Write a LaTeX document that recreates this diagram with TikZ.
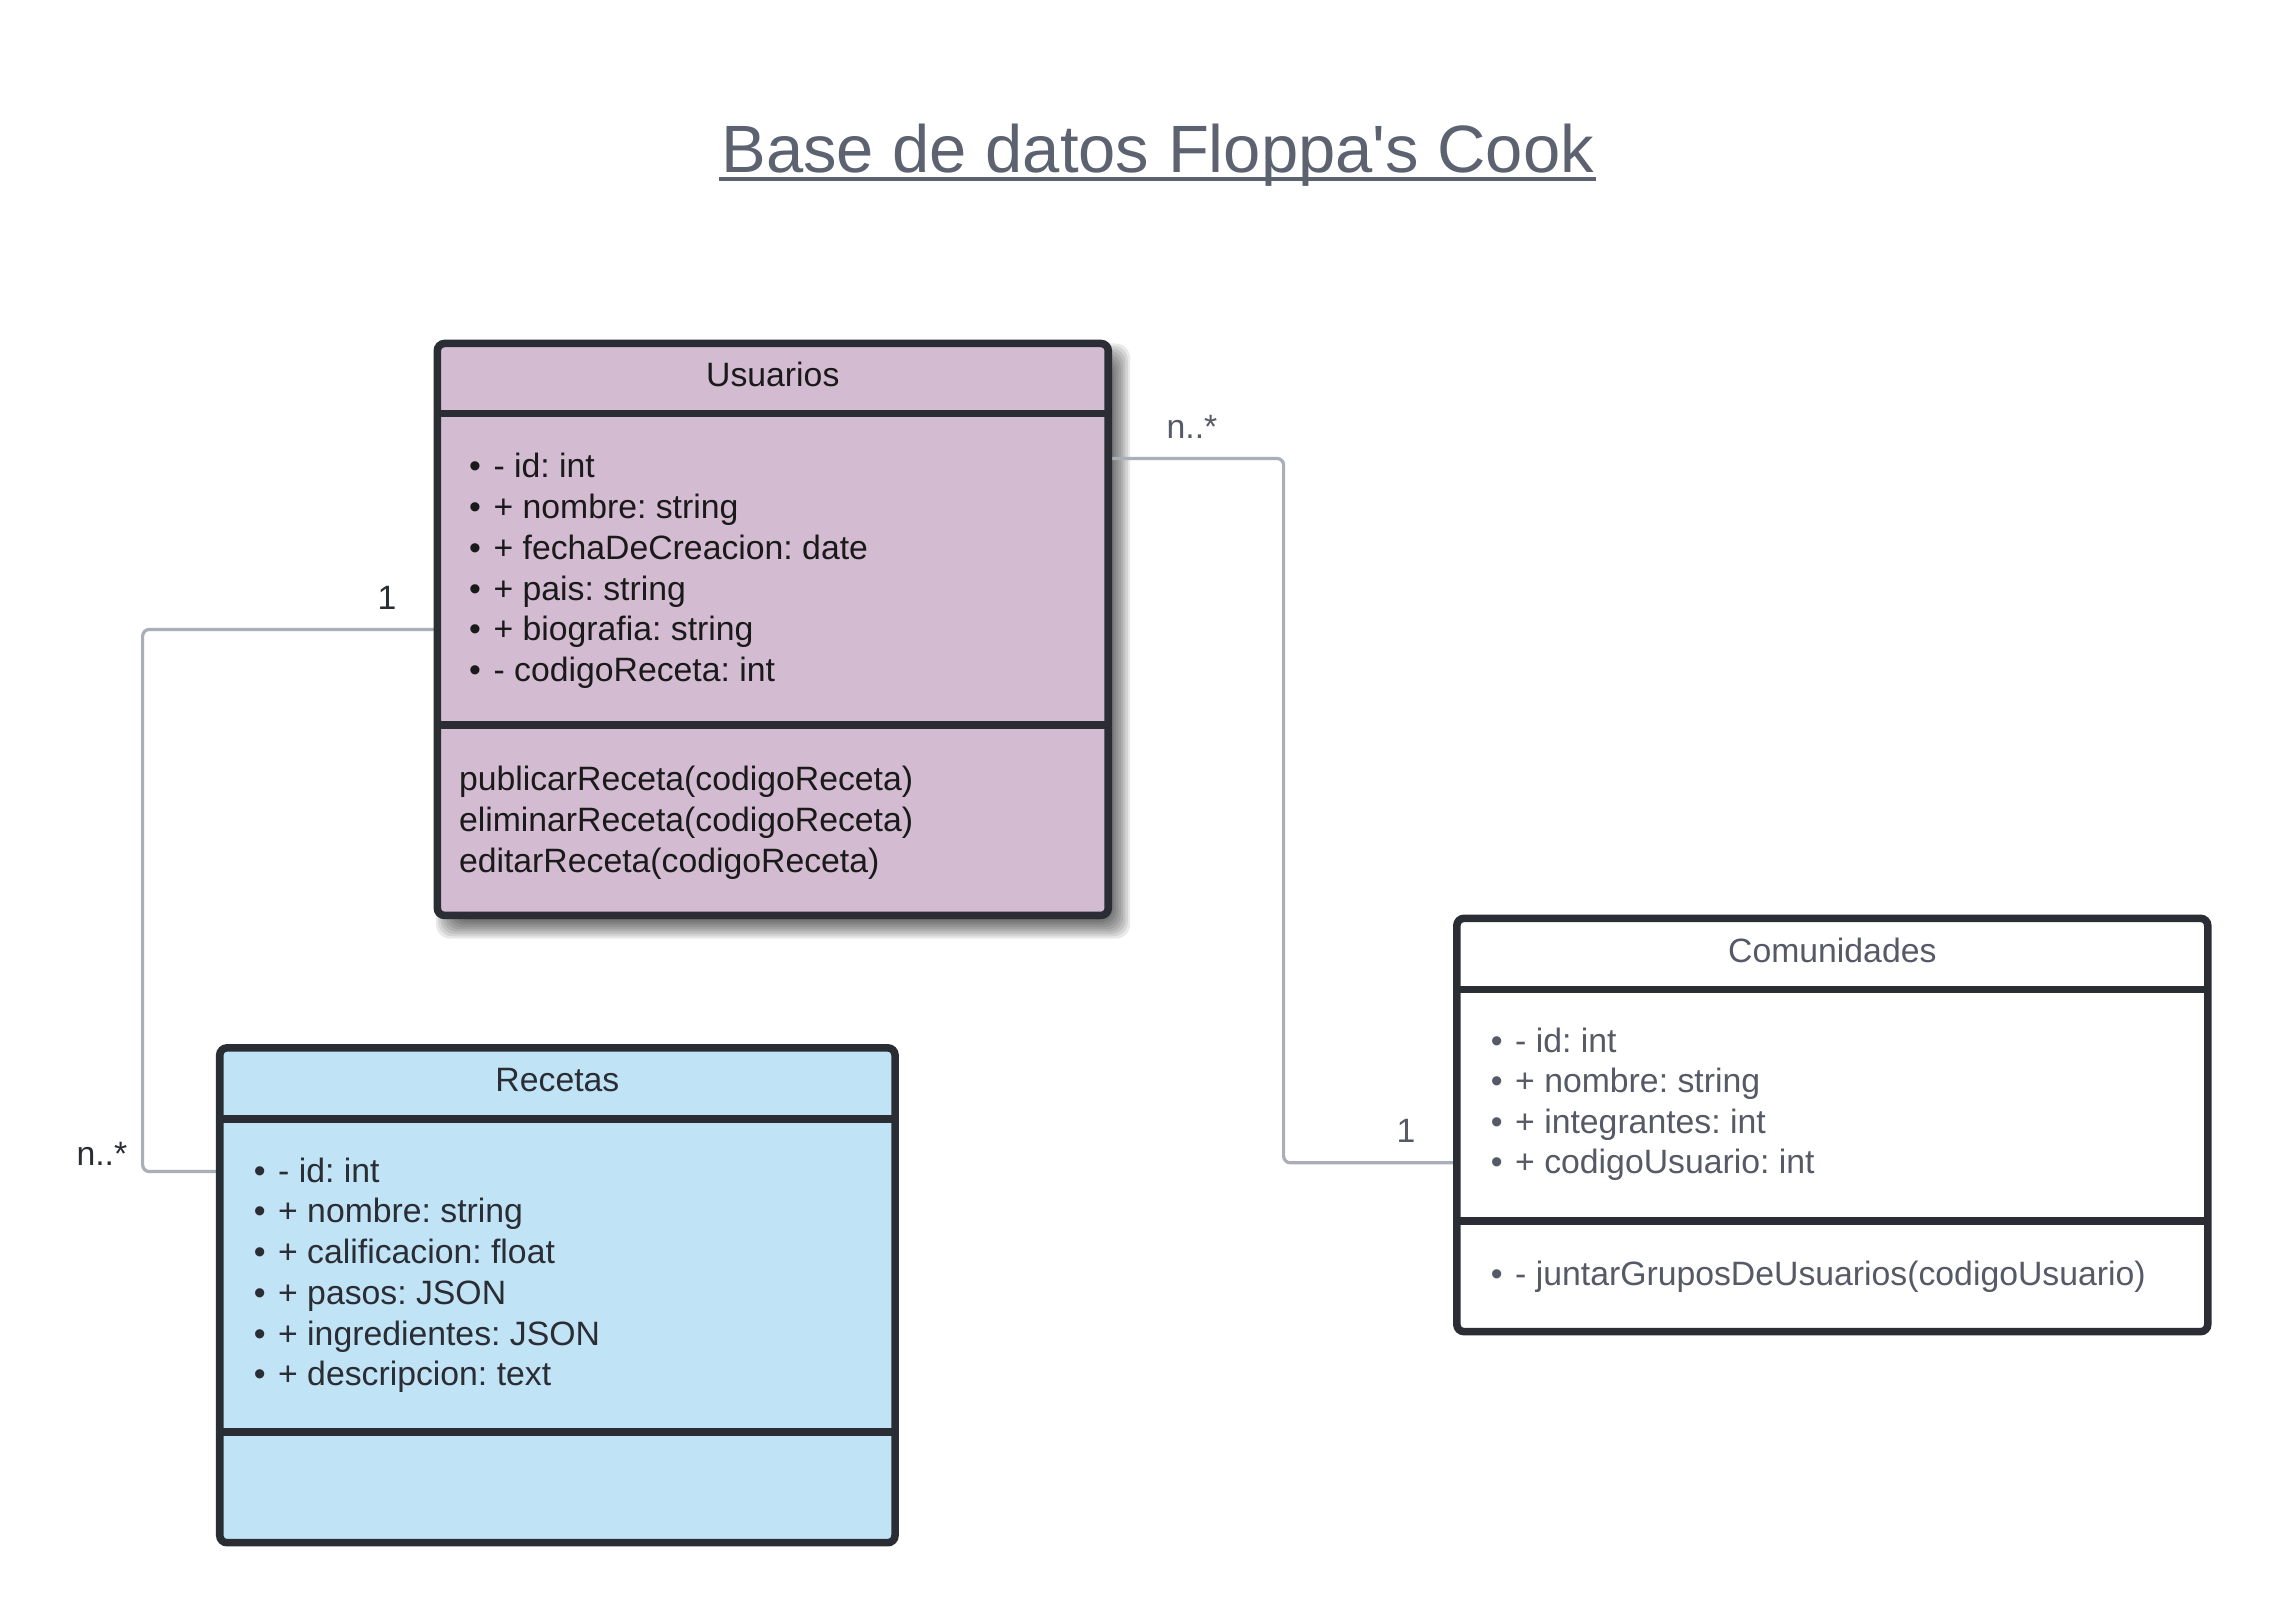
\documentclass[tikz,border=0pt]{standalone}
\usepackage{fontspec}
\setmainfont{Liberation Sans}[Ligatures=TeXOff]
\usetikzlibrary{calc}
\pgfdeclarelayer{background}
\pgfsetlayers{background,main}
\definecolor{usufill}{HTML}{D3BCD1}
\definecolor{recfill}{HTML}{C0E3F5}
\definecolor{edgecol}{HTML}{2A2D33}
\definecolor{conncol}{HTML}{A9AEB8}
\definecolor{titlecol}{HTML}{5C6270}
\definecolor{greytext}{HTML}{555A66}
\definecolor{darktext}{HTML}{2B2D35}
\definecolor{blacktext}{HTML}{1A1A1A}
\frenchspacing
\newcommand{\bul}{•\hspace{4.3pt}}
\begin{document}
\begin{tikzpicture}[x=0.5pt,y=-0.5pt,
  classbox/.style={draw=edgecol, line width=2.6pt, rounded corners=2.5pt, inner sep=0pt, outer sep=0pt},
  divider/.style={draw=edgecol, line width=2.6pt},
  conn/.style={draw=conncol, line width=1.1pt, rounded corners=2.3pt},
  txt/.style={font=\fontsize{11.6}{14}\selectfont, inner sep=0pt},
  body/.style={txt, anchor=mid west}]
\useasboundingbox (0,0) rectangle (1568,1111.7);

% title
\node[font=\fontsize{23}{28}\selectfont, text=titlecol, inner sep=0pt, anchor=base] (title) at (795.5,118.5) {Base de datos Floppa's Cook};
\draw[titlecol, line width=1.4pt] ($(title.base west)+(-1,4.8)$) -- ($(title.base east)+(1,4.8)$);

% boxes
\node[classbox, fill=usufill, minimum width=230.5pt, minimum height=196.5pt] (usu) at (531,432.5) {};
\node[classbox, fill=recfill, minimum width=232pt, minimum height=170pt] (rec) at (383,890) {};
\node[classbox, fill=white, minimum width=258pt, minimum height=142pt] (com) at (1259,773) {};

% dividers
\draw[divider] (usu.west |- 0,284) -- (usu.east |- 0,284);
\draw[divider] (usu.west |- 0,498) -- (usu.east |- 0,498);
\draw[divider] (rec.west |- 0,769) -- (rec.east |- 0,769);
\draw[divider] (rec.west |- 0,984) -- (rec.east |- 0,984);
\draw[divider] (com.west |- 0,680) -- (com.east |- 0,680);
\draw[divider] (com.west |- 0,839) -- (com.east |- 0,839);

% background, shadow and connectors
\begin{pgfonlayer}{background}
\fill[white] (0,0) rectangle (1568,1111.7);
\foreach \k in {0,...,9}{
  \fill[black, opacity=0.085, rounded corners=5pt]
    ($(usu.north west)+({-1+\k*1.6},{0+\k*1.6})$) rectangle ($(usu.south east)+({15-\k*1.6},{16-\k*1.6})$);
}
\coordinate (c1) at (98,432.5);
\coordinate (c2) at (98,805);
\coordinate (c3) at (882,315);
\coordinate (c4) at (882,799);
\draw[conn] (usu.west) -- (c1) -- (c2) -- (rec.west |- c2);
\draw[conn] (usu.east |- c3) -- (c3) -- (c4) -- (com.west |- c4);
\end{pgfonlayer}

% multiplicities
\node[txt, text=darktext] (m1) at (266,411) {1};
\node[txt, text=darktext] (m2) at (70,793) {n..*};
\node[txt, text=greytext] (m3) at (819,293) {n..*};
\node[txt, text=greytext] (m4) at (966,777) {1};

% Usuarios
\node[txt, text=blacktext, anchor=mid] (ut) at (531,260) {Usuarios};
\foreach \t [count=\i] in {{- id: int},{+ nombre: string},{+ fechaDeCreacion: date},{+ pais: string},{+ biografia: string},{- codigoReceta: int}}
  \node[body, text=blacktext] (ua\i) at (322,{323+28*(\i-1)}) {\bul\t};
\foreach \t [count=\i] in {publicarReceta(codigoReceta),eliminarReceta(codigoReceta),editarReceta(codigoReceta)}
  \node[body, text=blacktext] (um\i) at (315,{538+28*(\i-1)}) {\t};

% Recetas
\node[txt, text=darktext, anchor=mid] (rt) at (383,745) {Recetas};
\foreach \t [count=\i] in {{- id: int},{+ nombre: string},{+ calificacion: float},{+ pasos: JSON},{+ ingredientes: JSON},{+ descripcion: text}}
  \node[body, text=darktext] (ra\i) at (174,{807+28*(\i-1)}) {\bul\t};

% Comunidades
\node[txt, text=greytext, anchor=mid] (ct) at (1259,656) {Comunidades};
\foreach \t [count=\i] in {{- id: int},{+ nombre: string},{+ integrantes: int},{+ codigoUsuario: int}}
  \node[body, text=greytext] (ca\i) at (1024,{718+27.7*(\i-1)}) {\bul\t};
\node[body, text=greytext] (cm1) at (1024,878) {\bul- juntarGruposDeUsuarios(codigoUsuario)};
\end{tikzpicture}
\end{document}
